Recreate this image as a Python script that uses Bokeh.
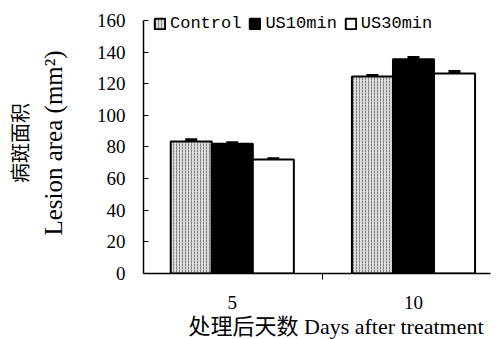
from bokeh.plotting import figure
from bokeh.models import (ColumnDataSource, Range1d, FixedTicker, Whisker, Title,
                          Legend, LegendItem, TeeHead)
from bokeh.embed import file_html
from bokeh.resources import INLINE
import numpy as np

days = ["5", "10"]
series = ["Control", "US10min", "US30min"]
control = [83.5, 124.5]
us10 = [82.0, 135.5]
us30 = [72.0, 126.5]
control_err = [1.0, 0.6]
us10_err = [0.6, 1.0]
us30_err = [0.5, 1.2]
y_ticks = [0, 20, 40, 60, 80, 100, 120, 140, 160]

SERIF = "Liberation Serif, Noto Sans CJK SC"

p = figure(width=498, height=339, output_backend="svg", toolbar_location=None,
           x_range=Range1d(-0.49, 1.425), y_range=Range1d(0, 165),
           min_border_left=5, min_border_right=8, min_border_top=12,
           min_border_bottom=5)
p.outline_line_color = None
p.xgrid.visible = False
p.ygrid.visible = False

idx = np.arange(len(days))
w = 0.2265
styles = [
    dict(fill_color="#dcdcdc", hatch_pattern=":", hatch_color="#808080", hatch_scale=3, hatch_weight=1),
    dict(fill_color="#000000"),
    dict(fill_color="#ffffff"),
]
vals = [control, us10, us30]
errs = [control_err, us10_err, us30_err]
items = []
for k, (name, v, e, st) in enumerate(zip(series, vals, errs, styles)):
    xs = idx + (k - 1) * w
    src = ColumnDataSource(dict(x=xs, top=v, up=np.array(v) + np.array(e), lo=np.array(v) - np.array(e)))
    r = p.vbar(x="x", top="top", width=w, source=src, line_color="black", line_width=2, **st)
    wh = Whisker(base="x", upper="up", lower="lo", source=src, line_width=2, line_color="black",
                 upper_head=TeeHead(size=12, line_width=3, line_color="black"),
                 lower_head=TeeHead(size=12, line_width=3, line_color="black"))
    p.add_layout(wh)
    items.append(LegendItem(label=name, renderers=[r]))

legend = Legend(items=items, orientation="horizontal", location=(10, 240),
                padding=0, margin=0, spacing=7, label_standoff=4,
                glyph_width=13, glyph_height=13, border_line_color=None,
                background_fill_alpha=0, label_text_font="Liberation Mono",
                label_text_font_size="17px", label_height=17, label_text_color="black")
p.add_layout(legend, "center")

# y axis
ya = p.yaxis[0]
ya.ticker = FixedTicker(ticks=y_ticks)
ya.bounds = (0, 160)
ya.major_tick_in = 5
ya.major_tick_out = 0
ya.minor_tick_line_color = None
ya.axis_line_width = 1.5
ya.axis_line_color = "black"
ya.major_tick_line_color = "black"
ya.major_label_standoff = 18
ya.major_label_text_font = "Liberation Serif"
ya.major_label_text_font_size = "19px"
ya.major_label_text_color = "black"
ya.axis_label = "Lesion area (mm²)"
ya.axis_label_text_font = "Liberation Serif"
ya.axis_label_text_font_style = "normal"
ya.axis_label_text_font_size = "25px"
ya.axis_label_text_color = "black"
ya.axis_label_standoff = 27

p.add_layout(Title(text="病斑面积", align="center", text_font="Noto Sans CJK SC",
                   text_font_size="20px", text_font_style="normal", text_color="black",
                   standoff=5), "left")

# x axis
xa = p.xaxis[0]
xa.ticker = FixedTicker(ticks=[0, 1], minor_ticks=[0.5])
xa.major_label_overrides = {0: days[0], 1: days[1]}
xa.major_tick_line_color = None
xa.minor_tick_in = 0
xa.minor_tick_out = 6
xa.minor_tick_line_color = "black"
xa.axis_line_width = 1.5
xa.axis_line_color = "black"
xa.major_label_standoff = 16
xa.major_label_text_font = "Liberation Serif"
xa.major_label_text_font_size = "19px"
xa.major_label_text_color = "black"

p.add_layout(Title(text="处理后天数  Days after treatment", align="left", offset=45,
                   text_font=SERIF, text_font_size="22px", text_font_style="normal",
                   text_color="black", standoff=1), "below")

open("out.html", "w").write(file_html(p, INLINE))
